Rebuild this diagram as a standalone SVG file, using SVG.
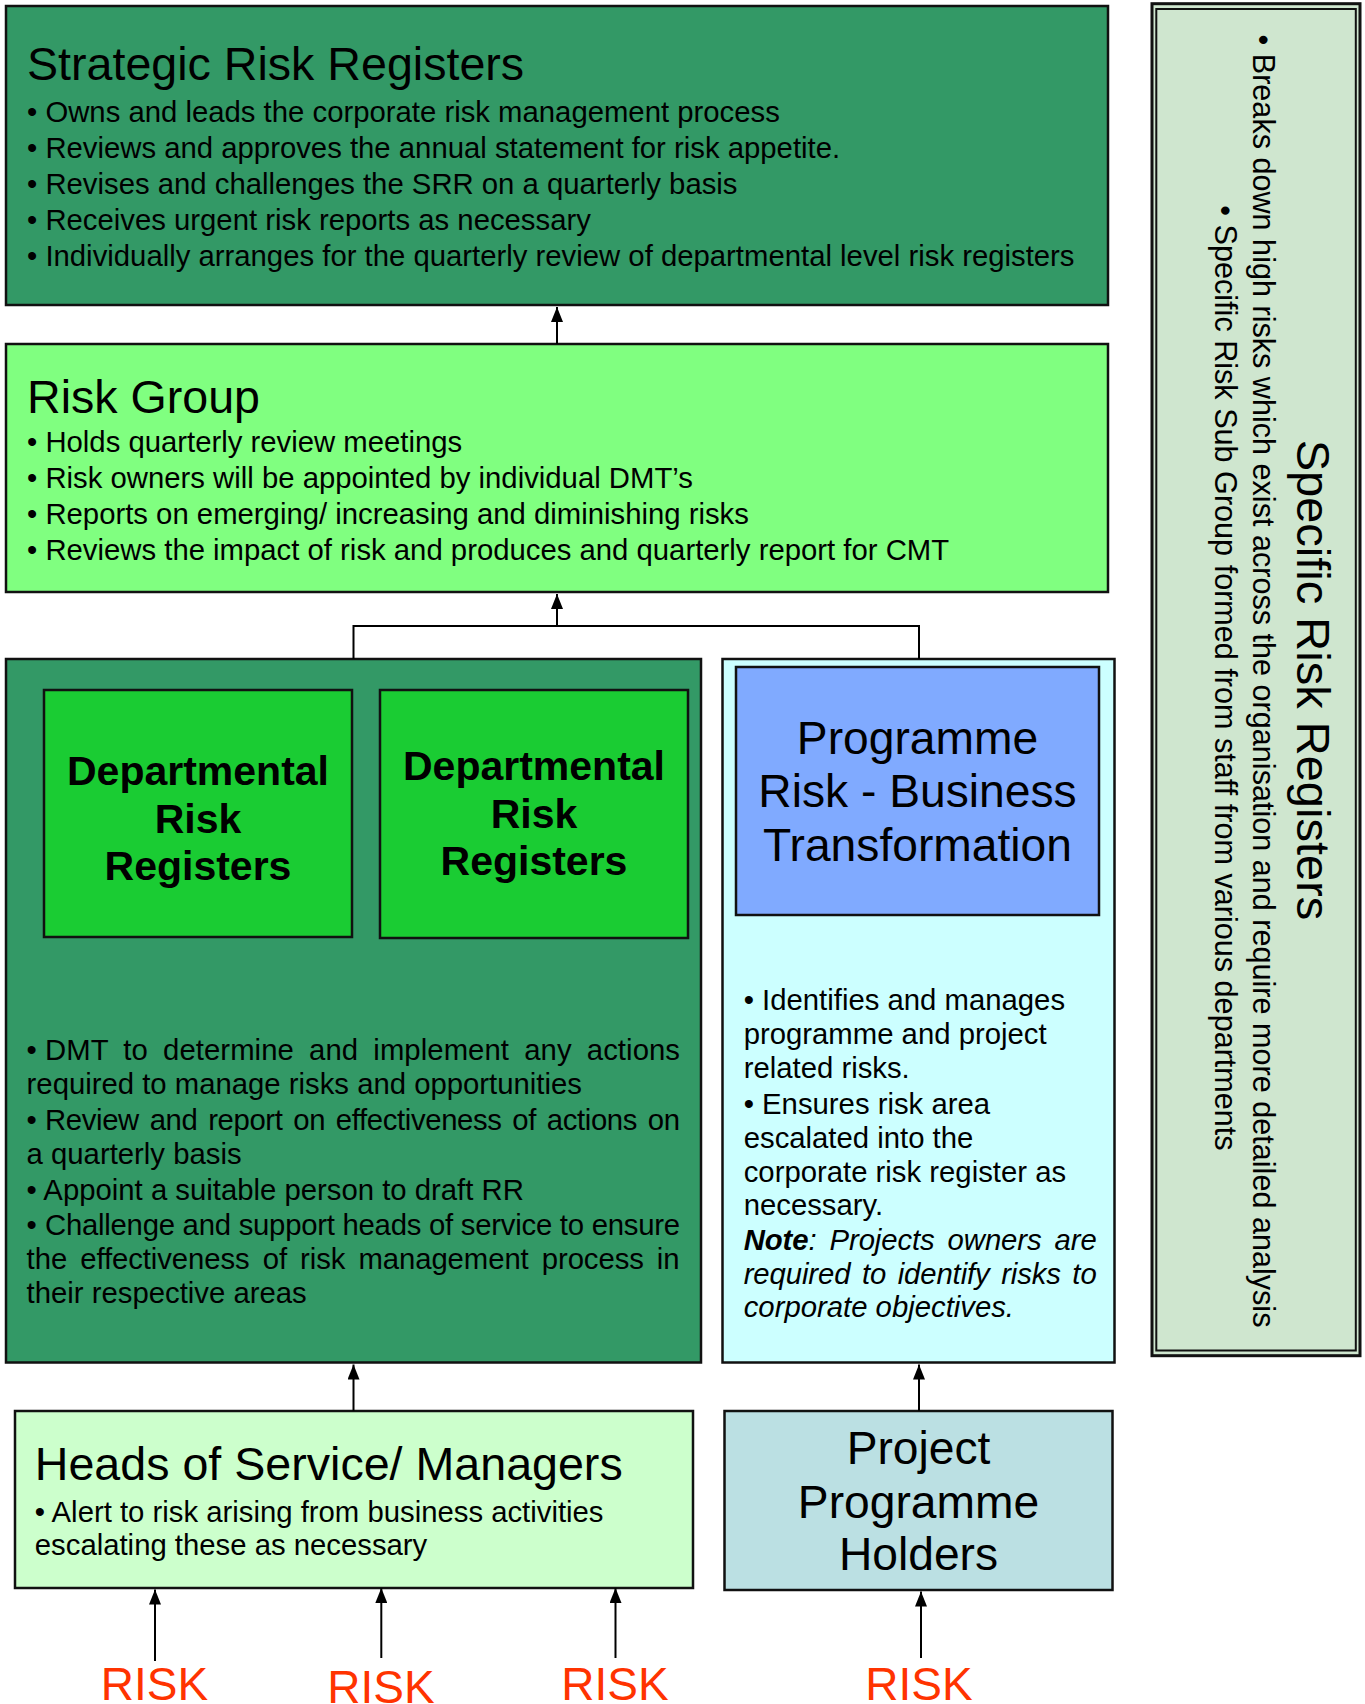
<svg xmlns="http://www.w3.org/2000/svg" width="1365" height="1704" viewBox="0 0 1365 1704">
<defs>
<marker id="ah" markerUnits="userSpaceOnUse" viewBox="0 0 15 12" markerWidth="15" markerHeight="12" refX="15" refY="6" orient="auto">
<path d="M0,0 L15,6 L0,12 z" fill="#000"/>
</marker>
<style>
text{font-family:"Liberation Sans",Arial,Helvetica,sans-serif;fill:#000}
.box{stroke:#111;stroke-width:2.5}
.title{font-size:46.6px}
.body{font-size:29.3px}
.dept{font-size:41px;font-weight:bold;text-anchor:middle}
.big{font-size:46.2px;text-anchor:middle}
.risk{font-size:46px;fill:#FF3300;text-anchor:middle}
.conn{stroke:#000;stroke-width:2;fill:none}
.it{font-style:italic}
</style>
</defs>
<rect width="1365" height="1704" fill="#fff"/>

<g id="srr">
<rect class="box" x="6" y="6" width="1102" height="299" fill="#339966"/>
<text class="title" x="27" y="80">Strategic Risk Registers</text>
<text class="body" x="27" y="121.5">• Owns and leads the corporate risk management process</text>
<text class="body" x="27" y="157.5">• Reviews and approves the annual statement for risk appetite.</text>
<text class="body" x="27" y="193.5">• Revises and challenges the SRR on a quarterly basis</text>
<text class="body" x="27" y="229.5">• Receives urgent risk reports as necessary</text>
<text class="body" x="27" y="265.5">• Individually arranges for the quarterly review of departmental level risk registers</text>
</g>

<g id="risk-group">
<rect class="box" x="6" y="344" width="1102" height="248" fill="#80FF80"/>
<text class="title" x="27" y="412.5">Risk Group</text>
<text class="body" x="27" y="451.5">• Holds quarterly review meetings</text>
<text class="body" x="27" y="487.5">• Risk owners will be appointed by individual DMT’s</text>
<text class="body" x="27" y="523.5">• Reports on emerging/ increasing and diminishing risks</text>
<text class="body" x="27" y="559.5">• Reviews the impact of risk and produces and quarterly report for CMT</text>
</g>

<g id="departmental">
<rect class="box" x="6" y="659" width="695" height="703.5" fill="#339966"/>
<text class="body" y="1060"><tspan x="26.6">•</tspan><tspan x="45" textLength="635" lengthAdjust="spacing" word-spacing="7">DMT to determine and implement any actions</tspan></text>
<text class="body" x="26.6" y="1094">required to manage risks and opportunities</text>
<text class="body" y="1130"><tspan x="26.6">•</tspan><tspan x="45" textLength="635" lengthAdjust="spacing" word-spacing="3">Review and report on effectiveness of actions on</tspan></text>
<text class="body" x="26.6" y="1164">a quarterly basis</text>
<text class="body" x="26.6" y="1199.5">• Appoint a suitable person to draft RR</text>
<text class="body" y="1235"><tspan x="26.6">•</tspan><tspan x="45" textLength="635" lengthAdjust="spacing">Challenge and support heads of service to ensure</tspan></text>
<text class="body" x="26.6" y="1269" textLength="653" lengthAdjust="spacing" word-spacing="5">the effectiveness of  risk management process in</text>
<text class="body" x="26.6" y="1303">their respective areas</text>
</g>

<g id="dept-rr-1">
<rect class="box" x="44" y="690" width="308" height="247" fill="#1ACC33"/>
<text class="dept" x="198" y="785">Departmental</text>
<text class="dept" x="198" y="832.5">Risk</text>
<text class="dept" x="198" y="880">Registers</text>
</g>

<g id="dept-rr-2">
<rect class="box" x="380" y="690" width="308" height="248" fill="#1ACC33"/>
<text class="dept" x="534" y="780">Departmental</text>
<text class="dept" x="534" y="827.5">Risk</text>
<text class="dept" x="534" y="875">Registers</text>
</g>

<g id="programme">
<rect class="box" x="722.5" y="659" width="392" height="703.5" fill="#CCFFFF"/>
<text class="body" x="743.7" y="1010">• Identifies and manages</text>
<text class="body" x="743.7" y="1043.5">programme and project</text>
<text class="body" x="743.7" y="1077.5">related risks.</text>
<text class="body" x="743.7" y="1114">• Ensures risk area</text>
<text class="body" x="743.7" y="1148">escalated into the</text>
<text class="body" x="743.7" y="1181.5">corporate risk register as</text>
<text class="body" x="743.7" y="1215">necessary.</text>
<text class="body it" x="743.7" y="1249.5" textLength="353" lengthAdjust="spacing" word-spacing="5"><tspan font-weight="bold">Note</tspan>: Projects owners are</text>
<text class="body it" x="743.7" y="1283.5" textLength="353" lengthAdjust="spacing" word-spacing="3.5">required to identify risks to</text>
<text class="body it" x="743.7" y="1317">corporate objectives.</text>
</g>

<g id="programme-risk">
<rect class="box" x="736" y="667" width="363" height="248" fill="#80AAFF"/>
<text class="big" x="917.5" y="753.5">Programme</text>
<text class="big" x="917.5" y="807">Risk - Business</text>
<text class="big" x="917.5" y="861">Transformation</text>
</g>

<g id="heads">
<rect class="box" x="15" y="1411" width="678" height="177" fill="#CCFFCC"/>
<text class="title" x="34.8" y="1480">Heads of Service/ Managers</text>
<text class="body" x="34.8" y="1521.5">• Alert to risk arising from business activities</text>
<text class="body" x="34.8" y="1555">escalating these as necessary</text>
</g>

<g id="project-holders">
<rect class="box" x="724.5" y="1411" width="388" height="179" fill="#BBE0E3"/>
<text class="big" x="918.5" y="1463.5">Project</text>
<text class="big" x="918.5" y="1517.5">Programme</text>
<text class="big" x="918.5" y="1570">Holders</text>
</g>

<g id="specific">
<rect x="1152" y="3.7" width="208" height="1352" fill="#CFE6CF" stroke="#111" stroke-width="3"/>
<rect x="1156.3" y="9" width="199.5" height="1341.5" fill="none" stroke="#111" stroke-width="2"/>
<text transform="translate(1297,680) rotate(90)" x="0" y="0" font-size="47" text-anchor="middle">Specific Risk Registers</text>
<text transform="translate(1253,681) rotate(90)" x="0" y="0" font-size="30.6" text-anchor="middle">• Breaks down high risks which exist across the organisation and require more detailed analysis</text>
<text transform="translate(1215,678) rotate(90)" x="0" y="0" font-size="30.6" text-anchor="middle">• Specific Risk Sub Group formed from staff from various departments</text>
</g>

<g id="risk-labels">
<text class="risk" x="154.5" y="1700">RISK</text>
<text class="risk" x="381" y="1703">RISK</text>
<text class="risk" x="615" y="1700">RISK</text>
<text class="risk" x="919" y="1700">RISK</text>
</g>

<g id="connectors">
<line class="conn" x1="557" y1="344" x2="557" y2="307" marker-end="url(#ah)"/>
<polyline class="conn" points="353.5,659 353.5,626 919,626 919,659"/>
<line class="conn" x1="557" y1="626" x2="557" y2="594" marker-end="url(#ah)"/>
<line class="conn" x1="353.5" y1="1411" x2="353.5" y2="1364.5" marker-end="url(#ah)"/>
<line class="conn" x1="919" y1="1411" x2="919" y2="1364.5" marker-end="url(#ah)"/>
<line class="conn" x1="155" y1="1661" x2="155" y2="1589.5" marker-end="url(#ah)"/>
<line class="conn" x1="381.3" y1="1658" x2="381.3" y2="1588" marker-end="url(#ah)"/>
<line class="conn" x1="615.5" y1="1658" x2="615.5" y2="1588" marker-end="url(#ah)"/>
<line class="conn" x1="921" y1="1658" x2="921" y2="1591.5" marker-end="url(#ah)"/>
</g>
</svg>
